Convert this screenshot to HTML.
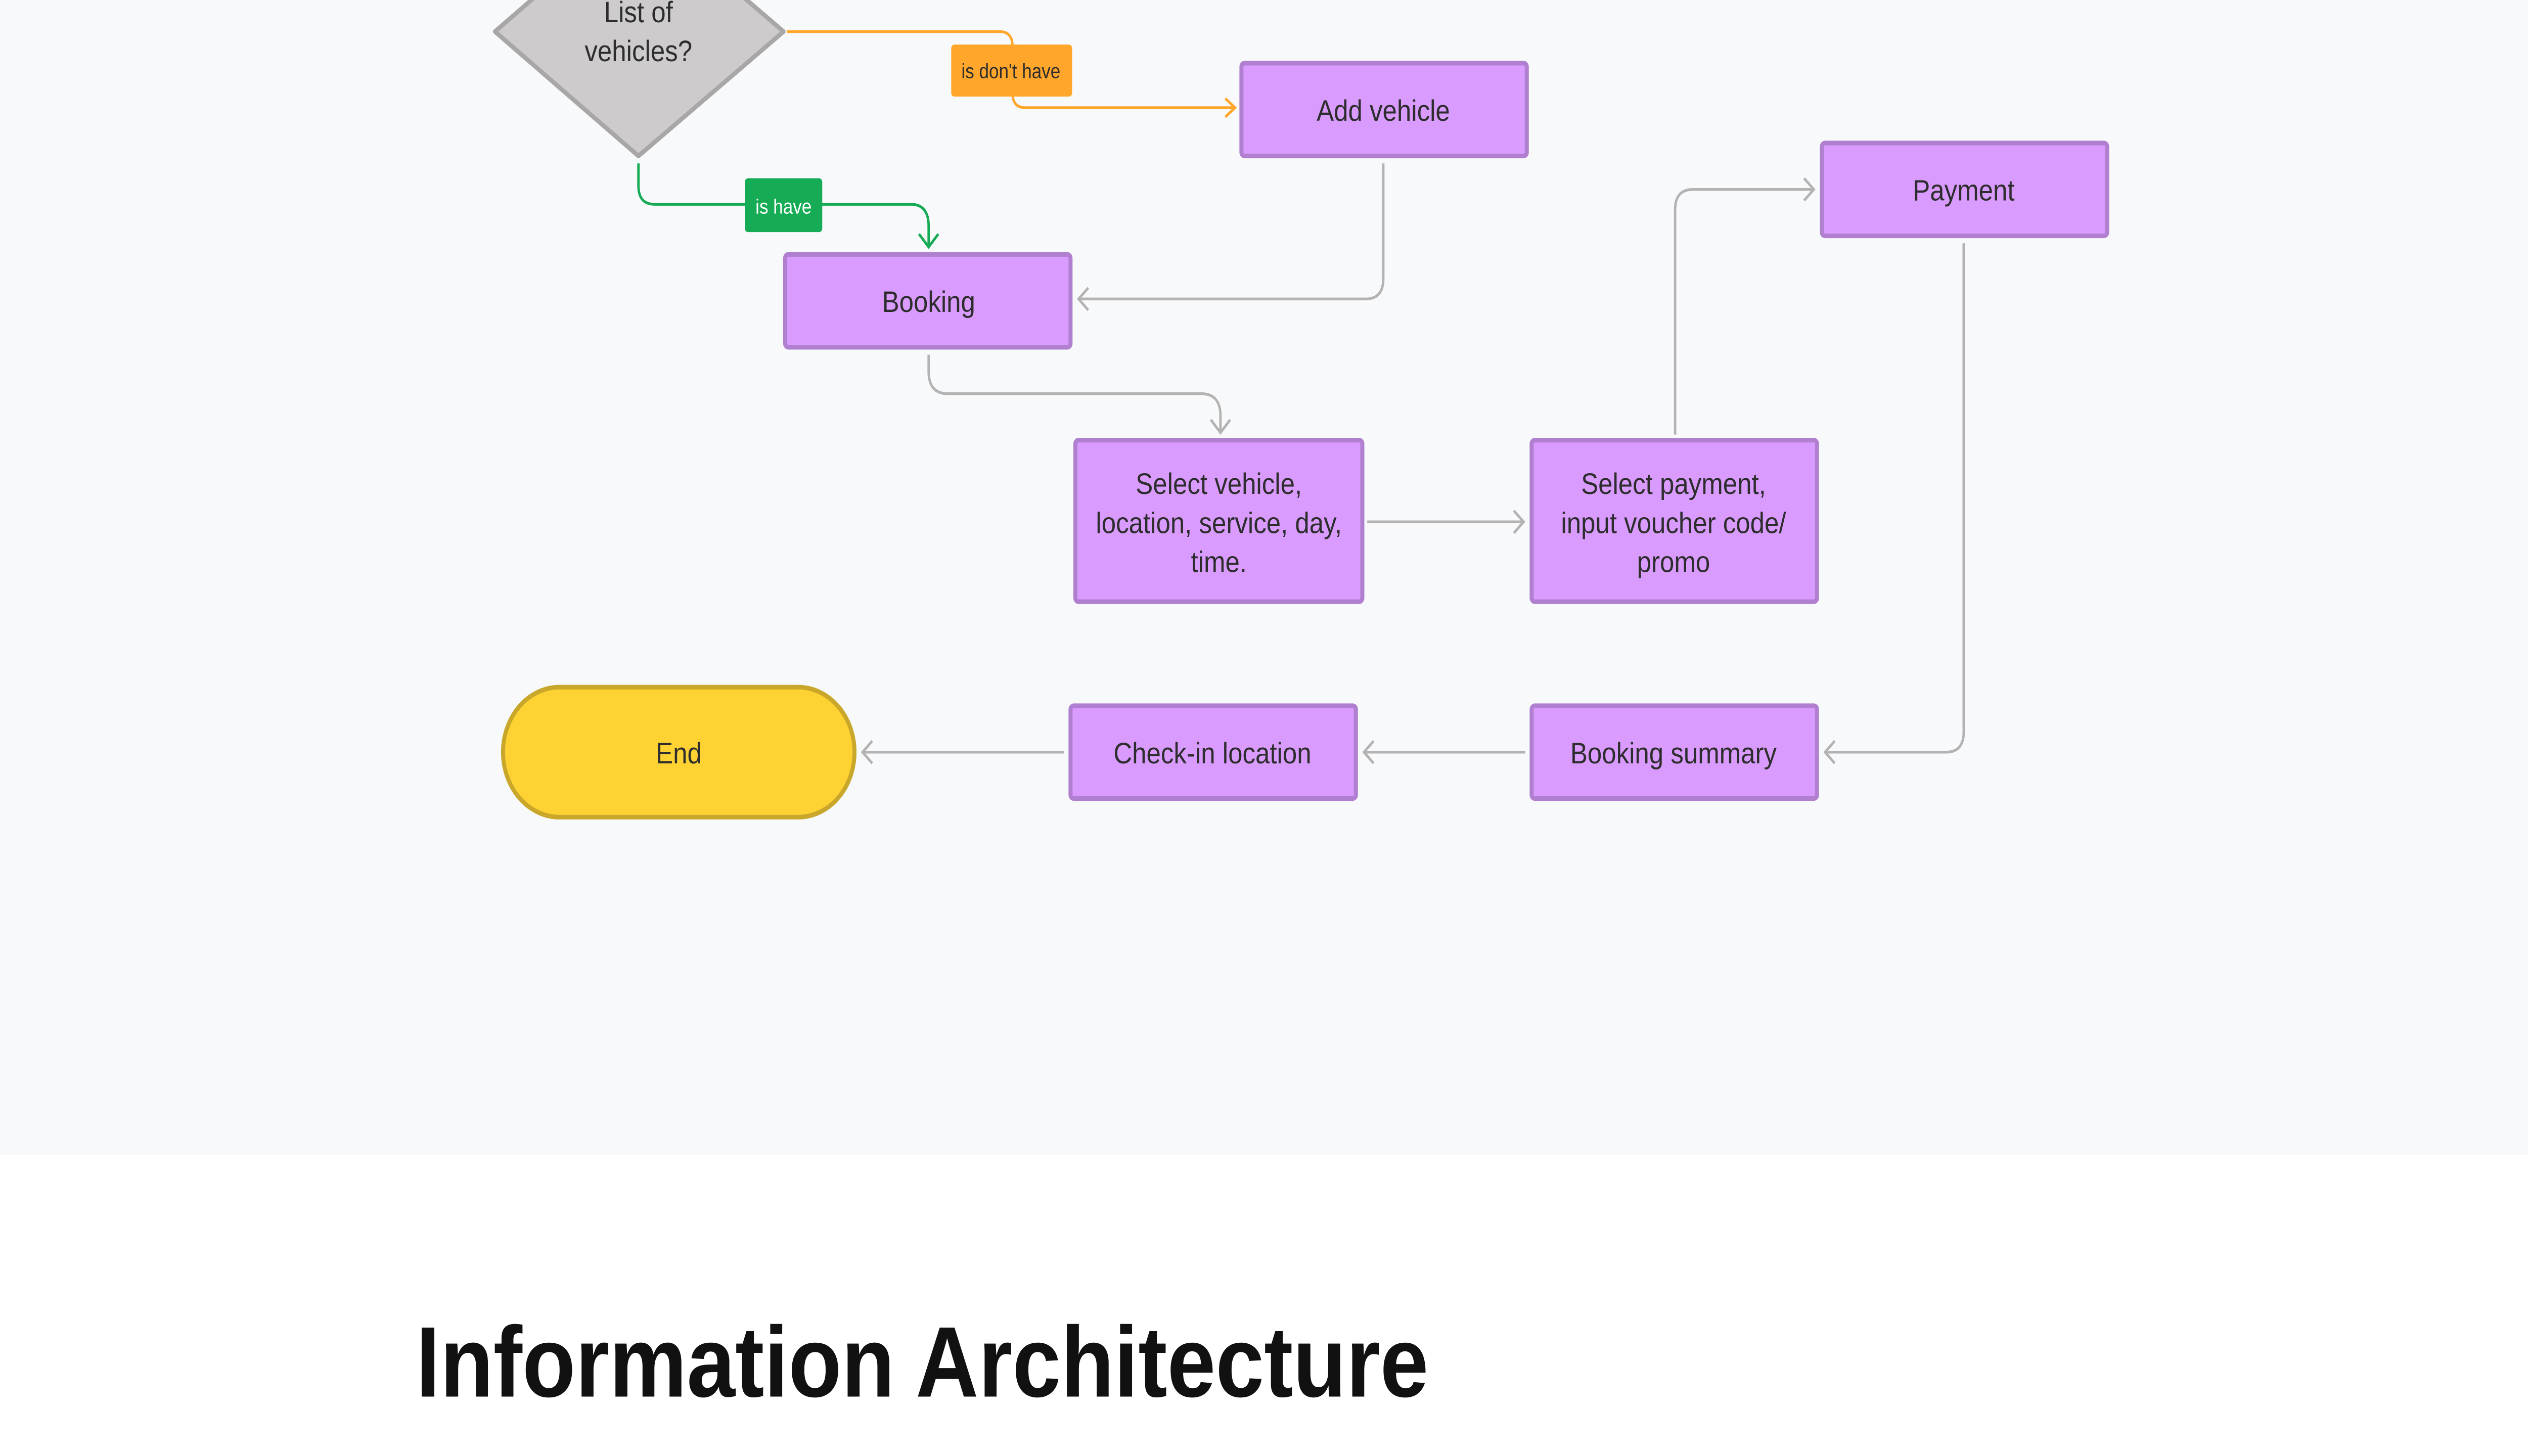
<!DOCTYPE html>
<html><head><meta charset="utf-8"><style>
html,body{margin:0;padding:0;width:100%;height:100%;overflow:hidden;background:#fff}
svg{display:block;position:fixed;left:0;top:0;width:100vw;height:100vh}
text{font-family:"Liberation Sans",sans-serif;fill:#2d2d2d}
</style></head><body>
<svg viewBox="0 0 1568 784" preserveAspectRatio="none" xmlns="http://www.w3.org/2000/svg">
<rect x="0" y="0" width="1568" height="622" fill="#f8f9fb"/>
<polygon points="396,-50 486,17 396,84 307,17" fill="#cdcbcc" stroke="#a8a6a7" stroke-width="2.5" stroke-linejoin="round"/>
<text x="396" y="12" font-size="16" text-anchor="middle">List of</text>
<text x="396" y="33" font-size="16" text-anchor="middle">vehicles?</text>
<path d="M488,17 H620 Q628,17 628,25 V50 Q628,58 636,58 H765" fill="none" stroke="#ffa62b" stroke-width="1.5"/>
<path d="M760,53 L766,58 L760,63" fill="none" stroke="#ffa62b" stroke-width="1.5"/>
<rect x="590" y="24" width="75" height="28" rx="2" fill="#ffa62b"/>
<text x="627" y="42" font-size="11" text-anchor="middle">is don't have</text>
<path d="M396,88 V100 Q396,110 406,110 H565 Q576,110 576,122 V132" fill="none" stroke="#16ab55" stroke-width="1.5"/>
<path d="M570,126 L576,133 L582,126" fill="none" stroke="#16ab55" stroke-width="1.5"/>
<rect x="462" y="96" width="48" height="29" rx="2" fill="#16ab55"/>
<text x="486" y="115" font-size="11" text-anchor="middle" style="fill:#fff">is have</text>
<g fill="none" stroke="#b3b3b3" stroke-width="1.5">
<path d="M858,88 V150 Q858,161 847,161 H669"/><path d="M675,155 L669,161 L675,167"/>
<path d="M576,191 V200 Q576,212 588,212 H745 Q757,212 757,224 V232"/><path d="M751,226 L757,233 L763,226"/>
<path d="M848,281 H945"/><path d="M939,275 L945,281 L939,287"/>
<path d="M1039,234 V113 Q1039,102 1050,102 H1125"/><path d="M1119,96 L1125,102 L1119,108"/>
<path d="M1218,131 V394 Q1218,405 1207,405 H1132"/><path d="M1138,399 L1132,405 L1138,411"/>
<path d="M946,405 H846"/><path d="M852,399 L846,405 L852,411"/>
<path d="M660,405 H535"/><path d="M541,399 L535,405 L541,411"/>
</g>
<g fill="#d99bfd" stroke="#b07fd0" stroke-width="2.5">
<rect x="770" y="34" width="177" height="50" rx="2"/>
<rect x="487" y="137" width="177" height="50" rx="2"/>
<rect x="1130" y="77" width="177" height="50" rx="2"/>
<rect x="667" y="237" width="178" height="87" rx="2"/>
<rect x="950" y="237" width="177" height="87" rx="2"/>
<rect x="950" y="380" width="177" height="50" rx="2"/>
<rect x="664" y="380" width="177" height="50" rx="2"/>
</g>
<rect x="312" y="370" width="218" height="70" rx="35" fill="#ffd233" stroke="#c9a72a" stroke-width="2.5"/>
<g font-size="16" text-anchor="middle">
<text x="858" y="65">Add vehicle</text>
<text x="576" y="168">Booking</text>
<text x="1218" y="108">Payment</text>
<text x="756" y="266">Select vehicle,</text>
<text x="756" y="287">location, service, day,</text>
<text x="756" y="308">time.</text>
<text x="1038" y="266">Select payment,</text>
<text x="1038" y="287">input voucher code/</text>
<text x="1038" y="308">promo</text>
<text x="1038" y="411">Booking summary</text>
<text x="752" y="411">Check-in location</text>
<text x="421" y="411">End</text>
</g>
<text x="258" y="752" font-size="54" font-weight="bold" style="fill:#111">Information Architecture</text>
</svg>
</body></html>
